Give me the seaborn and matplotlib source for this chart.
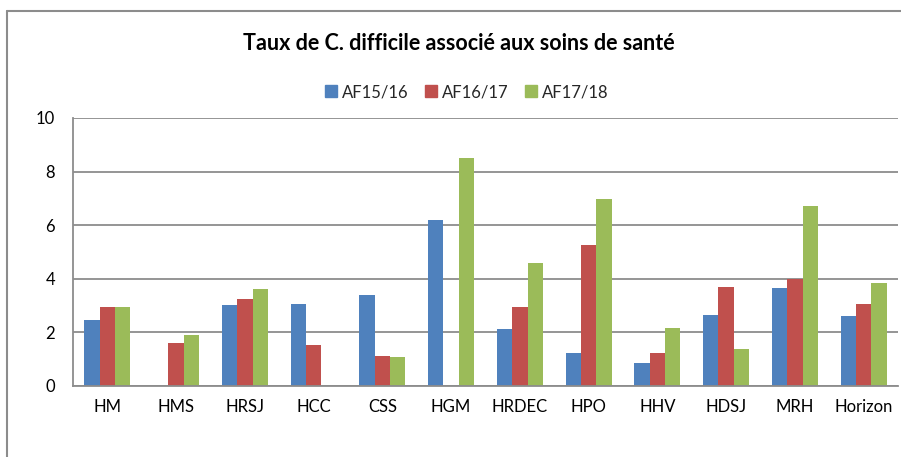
import matplotlib
matplotlib.use("Agg")
import matplotlib.pyplot as plt
import seaborn as sns
import pandas as pd
import numpy as np
from matplotlib.lines import Line2D

categories = ["HM", "HMS", "HRSJ", "HCC", "CSS", "HGM", "HRDEC", "HPO", "HHV", "HDSJ", "MRH", "Horizon"]
af1516 = [2.48, np.nan, 3.03, 3.06, 3.38, 6.19, 2.14, 1.25, 0.84, 2.65, 3.64, 2.61]
af1617 = [2.94, 1.60, 3.23, 1.52, 1.11, np.nan, 2.94, 5.25, 1.25, 3.71, 3.99, 3.07]
af1718 = [2.93, 1.90, 3.61, np.nan, 1.09, 8.50, 4.60, 6.99, 2.17, 1.38, 6.73, 3.85]
series_names = ["AF15/16", "AF16/17", "AF17/18"]
colors = ["#4F81BD", "#C0504D", "#9BBB59"]
title = "Taux de C. difficile associé aux soins de santé"
yticks = [0, 2, 4, 6, 8, 10]

rows = []
for name, vals in zip(series_names, [af1516, af1617, af1718]):
    for c, v in zip(categories, vals):
        rows.append({"cat": c, "series": name, "value": v})
df = pd.DataFrame(rows)

sns.set_theme(style="white")
plt.rcParams["font.family"] = ["Lato", "DejaVu Sans"]

fig = plt.figure(figsize=(9.01, 4.57), dpi=100)
W, H = 901, 457
ax = fig.add_axes([73 / W, 1 - 386 / H, (898 - 73) / W, (386 - 118) / H])

sns.barplot(data=df, x="cat", y="value", hue="series", order=categories,
            hue_order=series_names, palette=colors, width=0.667,
            linewidth=0, saturation=1, errorbar=None, ax=ax, legend=True)

ax.set_ylim(0, 10)
ax.set_xlim(-0.5, len(categories) - 0.5)
ax.set_yticks(yticks)
ax.set_yticklabels([str(t) for t in yticks], fontsize=12, color="#000000")
ax.tick_params(axis="both", length=0, labelsize=12, colors="#000000")
ax.tick_params(axis="y", pad=13)
ax.tick_params(axis="x", pad=9)
ax.set_xlabel("")
ax.set_ylabel("")
ax.yaxis.grid(True, color="#8c8c8c", linewidth=1.3)
ax.set_axisbelow(True)
for s in ["top", "right"]:
    ax.spines[s].set_visible(False)
for s in ["left", "bottom"]:
    ax.spines[s].set_color("#8c8c8c")
    ax.spines[s].set_linewidth(1.3)

leg = ax.get_legend()
if leg is not None:
    leg.remove()
handles = [plt.Rectangle((0, 0), 1, 1, color=c) for c in colors]
fig.legend(handles, series_names, loc="center", bbox_to_anchor=(467 / W, 1 - 92 / H),
           ncol=3, frameon=False, fontsize=12, handlelength=0.7, handleheight=0.7,
           handletextpad=0.3, columnspacing=1.0)

fig.text(459 / W, 1 - 44 / H, title, ha="center", va="center",
         fontsize=15.5, fontweight="bold", color="#000000")

# outer chart frame (top and left edges visible)
fig.add_artist(Line2D([7 / W, 7 / W], [0, 1 - 11 / H], transform=fig.transFigure,
                      color="#8c8c8c", linewidth=1.5))
fig.add_artist(Line2D([7 / W, 1], [1 - 11 / H, 1 - 11 / H], transform=fig.transFigure,
                      color="#8c8c8c", linewidth=1.5))

fig.savefig("out.png", dpi=100)
